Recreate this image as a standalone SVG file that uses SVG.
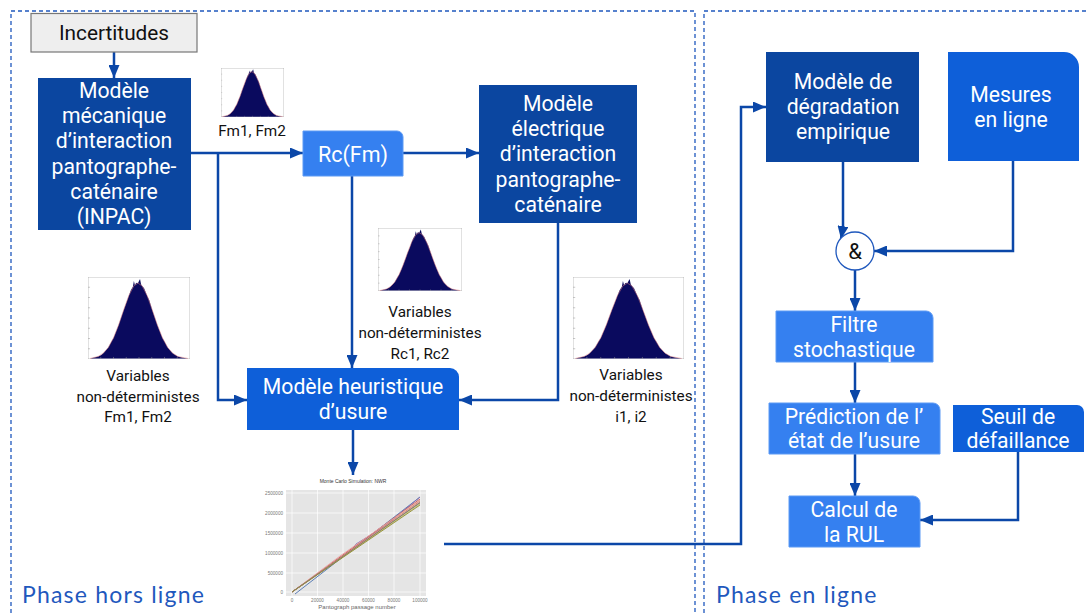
<svg xmlns="http://www.w3.org/2000/svg" width="1088" height="615" viewBox="0 0 1088 615">
<style>
.dash{fill:none;stroke:#1f58bd;stroke-width:1.3;stroke-dasharray:4 3}
.dark{fill:#0b46a0}
.med{fill:#0e5fd9}
.light{fill:#3580f0;stroke:#5d9af4;stroke-width:1}
.nt{font-family:Roboto,"Liberation Sans",sans-serif;font-size:21.2px;fill:#ffffff;text-anchor:middle}
.lt{font-family:Roboto,"Liberation Sans",sans-serif;font-size:15.3px;fill:#111111;text-anchor:middle}
.ph{font-family:Lato,"Noto Sans",sans-serif;font-size:23px;letter-spacing:1.2px;fill:#1f58bd}
.con{fill:none;stroke:#0b47a8;stroke-width:2.5}
.ax{font-family:"Liberation Sans",Arial,sans-serif;font-size:4.6px;fill:#777777}
</style>
<defs>
<marker id="ah" markerUnits="userSpaceOnUse" markerWidth="13" markerHeight="11" refX="13" refY="5.5" orient="auto">
<path d="M0,0 L13,5.5 L0,11 Z" fill="#0b47a8"/>
</marker>
<symbol id="hist" viewBox="0 0 100 80" preserveAspectRatio="none">
<rect x="0" y="0" width="100" height="80" fill="#ffffff" stroke="#9a9a9a" stroke-width="0.6" vector-effect="non-scaling-stroke"/>
<polygon fill="#0a0a5e" points="2,79.5 5,78.8 10,77.5 13,76 15,74.3 18,71 20,68.6 23,63 25,59.4 28,52 30,46.8 33,38 35,32.1 38,24 40,18.2 42,13 44,9.5 45,4 46,8 47,6 48,5.5 49,6 50,4 51,2 52,7 53,8.6 55,11 58,18.2 60,22.5 63,32.1 65,38 68,46.8 70,52 73,59.4 75,63 78,68.6 80,71 83,74.3 85,75.6 88,77.5 93,78.8 98,79.5"/>
<polyline fill="none" stroke="#e08080" stroke-width="0.5" vector-effect="non-scaling-stroke" points="2,79.5 10,77.5 15,74.3 20,68.6 25,59.4 30,46.8 35,32.1 40,18.2 45,8.6 49,6 53,8.6 58,18.2 63,32.1 68,46.8 73,59.4 78,68.6 83,74.3 88,77.5 98,79.5"/>
<g stroke="#9a9a9a" stroke-width="0.5" vector-effect="non-scaling-stroke">
<line x1="0" y1="10" x2="2" y2="10"/><line x1="0" y1="20" x2="2" y2="20"/><line x1="0" y1="30" x2="2" y2="30"/><line x1="0" y1="40" x2="2" y2="40"/><line x1="0" y1="50" x2="2" y2="50"/><line x1="0" y1="60" x2="2" y2="60"/><line x1="0" y1="70" x2="2" y2="70"/>
<line x1="12.5" y1="80" x2="12.5" y2="78"/><line x1="25" y1="80" x2="25" y2="78"/><line x1="37.5" y1="80" x2="37.5" y2="78"/><line x1="50" y1="80" x2="50" y2="78"/><line x1="62.5" y1="80" x2="62.5" y2="78"/><line x1="75" y1="80" x2="75" y2="78"/><line x1="87.5" y1="80" x2="87.5" y2="78"/>
</g>
</symbol>
</defs>
<rect width="1088" height="615" fill="#ffffff"/>

<g id="phases">
<path class="dash" d="M11,620 V11 H695 V620"/>
<path class="dash" d="M704,620 V11 H1095"/>
<text class="ph" x="22" y="603">Phase hors ligne</text>
<text class="ph" x="716" y="603">Phase en ligne</text>
</g>

<g id="connectors">
<path class="con" d="M114,52 V78" marker-end="url(#ah)"/>
<path class="con" d="M191,153 H303" marker-end="url(#ah)"/>
<path class="con" d="M218,153 V400 H247" marker-end="url(#ah)"/>
<path class="con" d="M403,153 H479" marker-end="url(#ah)"/>
<path class="con" d="M352,176 V368" marker-end="url(#ah)"/>
<path class="con" d="M558,223 V400 H459" marker-end="url(#ah)"/>
<path class="con" d="M353,430 V475" marker-end="url(#ah)"/>
<path class="con" d="M444,544 H741 V107 H766" marker-end="url(#ah)"/>
<path class="con" d="M843,162 V226 L841,239" marker-end="url(#ah)"/>
<path class="con" d="M1013,161 V251 H874" marker-end="url(#ah)"/>
<path class="con" d="M855,270 V311" marker-end="url(#ah)"/>
<path class="con" d="M855,362 V403" marker-end="url(#ah)"/>
<path class="con" d="M855,454 V496" marker-end="url(#ah)"/>
<path class="con" d="M1018,452 V520 H920" marker-end="url(#ah)"/>
</g>

<g id="incertitudes">
<rect x="31" y="13.5" width="166" height="38.5" fill="#eeeeee" stroke="#777777" stroke-width="1.2"/>
<text x="114" y="40" style="font-family:Roboto,'Liberation Sans',sans-serif;font-size:20.8px;fill:#111111;text-anchor:middle">Incertitudes</text>
</g>

<g id="modele-mecanique">
<rect class="dark" x="38" y="78" width="153" height="152"/>
<text class="nt" x="114" y="98">Modèle</text>
<text class="nt" x="114" y="123">mécanique</text>
<text class="nt" x="114" y="148">d’interaction</text>
<text class="nt" x="114" y="173.5">pantographe-</text>
<text class="nt" x="114" y="198.5">caténaire</text>
<text class="nt" x="114" y="223.5">(INPAC)</text>
</g>

<g id="hist-fm-top">
<use href="#hist" x="221" y="68" width="63" height="49"/>
<text class="lt" x="252" y="136">Fm1, Fm2</text>
</g>

<g id="rc-fm">
<path class="light" d="M303,131 H397 A6,6 0 0 1 403,137 V176 H303 Z"/>
<text class="nt" x="353" y="162" style="font-size:21.5px">Rc(Fm)</text>
</g>

<g id="modele-electrique">
<rect class="dark" x="479" y="85" width="158" height="138"/>
<text class="nt" x="558" y="111">Modèle</text>
<text class="nt" x="558" y="136">électrique</text>
<text class="nt" x="558" y="161">d’interaction</text>
<text class="nt" x="558" y="187">pantographe-</text>
<text class="nt" x="558" y="212">caténaire</text>
</g>

<g id="hist-fm">
<use href="#hist" x="88" y="277" width="102" height="82"/>
<text class="lt" x="138" y="381">Variables</text>
<text class="lt" x="138" y="401.5">non-déterministes</text>
<text class="lt" x="138" y="422">Fm1, Fm2</text>
</g>

<g id="hist-rc">
<use href="#hist" x="378" y="228" width="84" height="63"/>
<text class="lt" x="420" y="317">Variables</text>
<text class="lt" x="420" y="338">non-déterministes</text>
<text class="lt" x="420" y="359">Rc1, Rc2</text>
</g>

<g id="hist-i">
<use href="#hist" x="573" y="277" width="111" height="82"/>
<text class="lt" x="631" y="380">Variables</text>
<text class="lt" x="631" y="401">non-déterministes</text>
<text class="lt" x="631" y="422">i1, i2</text>
</g>

<g id="modele-heuristique">
<path class="med" d="M247,368 H450 A9,9 0 0 1 459,377 V430 H247 Z"/>
<text class="nt" x="353" y="394">Modèle heuristique</text>
<text class="nt" x="353" y="419">d’usure</text>
</g>

<g id="chart">
<text x="353" y="482.5" style="font-family:'Liberation Sans',Arial,sans-serif;font-size:5px;fill:#333333;text-anchor:middle">Monte Carlo Simulation: NWR</text>
<rect x="286" y="490" width="140" height="106" fill="#e5e5e5"/>
<g stroke="#ffffff" stroke-width="0.7">
<line x1="286" y1="493" x2="426" y2="493"/><line x1="286" y1="513" x2="426" y2="513"/><line x1="286" y1="533" x2="426" y2="533"/><line x1="286" y1="553" x2="426" y2="553"/><line x1="286" y1="573" x2="426" y2="573"/><line x1="286" y1="592" x2="426" y2="592"/>
<line x1="292" y1="490" x2="292" y2="596"/><line x1="317.5" y1="490" x2="317.5" y2="596"/><line x1="343" y1="490" x2="343" y2="596"/><line x1="368.5" y1="490" x2="368.5" y2="596"/><line x1="394" y1="490" x2="394" y2="596"/><line x1="420" y1="490" x2="420" y2="596"/>
</g>
<g fill="none" stroke-width="0.9">
<path d="M295,594 L420,497" stroke="#4c72b0"/>
<path d="M292,592 L353,549 L356,544 L385,526 L420,497" stroke="#8172b2"/>
<path d="M292,592 L420,499" stroke="#c44e52"/>
<path d="M292,592 L340,556 L420,500" stroke="#e8a0a0"/>
<path d="M292,592 L420,501" stroke="#dd8452"/>
<path d="M292,592 L420,502" stroke="#da8bc3"/>
<path d="M292,592 L420,503" stroke="#55a868"/>
<path d="M292,592 L420,504" stroke="#ccb974"/>
<path d="M292,592 L420,505" stroke="#8c8c30"/>
<path d="M292,592 L420,502.5" stroke="#937860"/>
</g>
<g class="ax" text-anchor="end">
<text x="283" y="494.5">2500000</text>
<text x="283" y="514.5">2000000</text>
<text x="283" y="534.5">1500000</text>
<text x="283" y="554.5">1000000</text>
<text x="283" y="574.5">500000</text>
<text x="283" y="593.5">0</text>
</g>
<g class="ax" text-anchor="middle">
<text x="292" y="602">0</text>
<text x="317.5" y="602">20000</text>
<text x="343" y="602">40000</text>
<text x="368.5" y="602">60000</text>
<text x="394" y="602">80000</text>
<text x="420" y="602">100000</text>
</g>
<text x="357" y="609" style="font-family:'Liberation Sans',Arial,sans-serif;font-size:6px;fill:#666666;text-anchor:middle">Pantograph passage number</text>
</g>

<g id="modele-degradation">
<rect class="dark" x="766" y="52" width="153" height="110"/>
<text class="nt" x="843" y="89">Modèle de</text>
<text class="nt" x="843" y="114">dégradation</text>
<text class="nt" x="843" y="139">empirique</text>
</g>

<g id="mesures">
<path class="med" d="M948,52 H1064 A15,15 0 0 1 1079,67 V161 H948 Z"/>
<text class="nt" x="1011" y="102">Mesures</text>
<text class="nt" x="1011" y="127">en ligne</text>
</g>

<g id="et">
<circle cx="855" cy="251" r="19" fill="#ffffff" stroke="#1f58bd" stroke-width="1.3"/>
<text x="855" y="259" style="font-family:Roboto,'Liberation Sans',sans-serif;font-size:22px;fill:#111111;text-anchor:middle">&amp;</text>
</g>

<g id="filtre">
<path class="light" d="M776,311 H926 A7,7 0 0 1 933,318 V362 H776 Z"/>
<text class="nt" x="854" y="332">Filtre</text>
<text class="nt" x="854" y="357">stochastique</text>
</g>

<g id="prediction">
<path class="light" d="M769,403 H933 A7,7 0 0 1 940,410 V454 H769 Z"/>
<text class="nt" x="854" y="424">Prédiction de l’</text>
<text class="nt" x="854" y="448">état de l’usure</text>
</g>

<g id="seuil">
<path class="med" d="M953,405 H1077 A7,7 0 0 1 1084,412 V452 H953 Z"/>
<text class="nt" x="1018" y="424">Seuil de</text>
<text class="nt" x="1018" y="448">défaillance</text>
</g>

<g id="calcul">
<path class="light" d="M789,496 H913 A7,7 0 0 1 920,503 V547 H789 Z"/>
<text class="nt" x="854" y="517">Calcul de</text>
<text class="nt" x="854" y="542">la RUL</text>
</g>
</svg>
